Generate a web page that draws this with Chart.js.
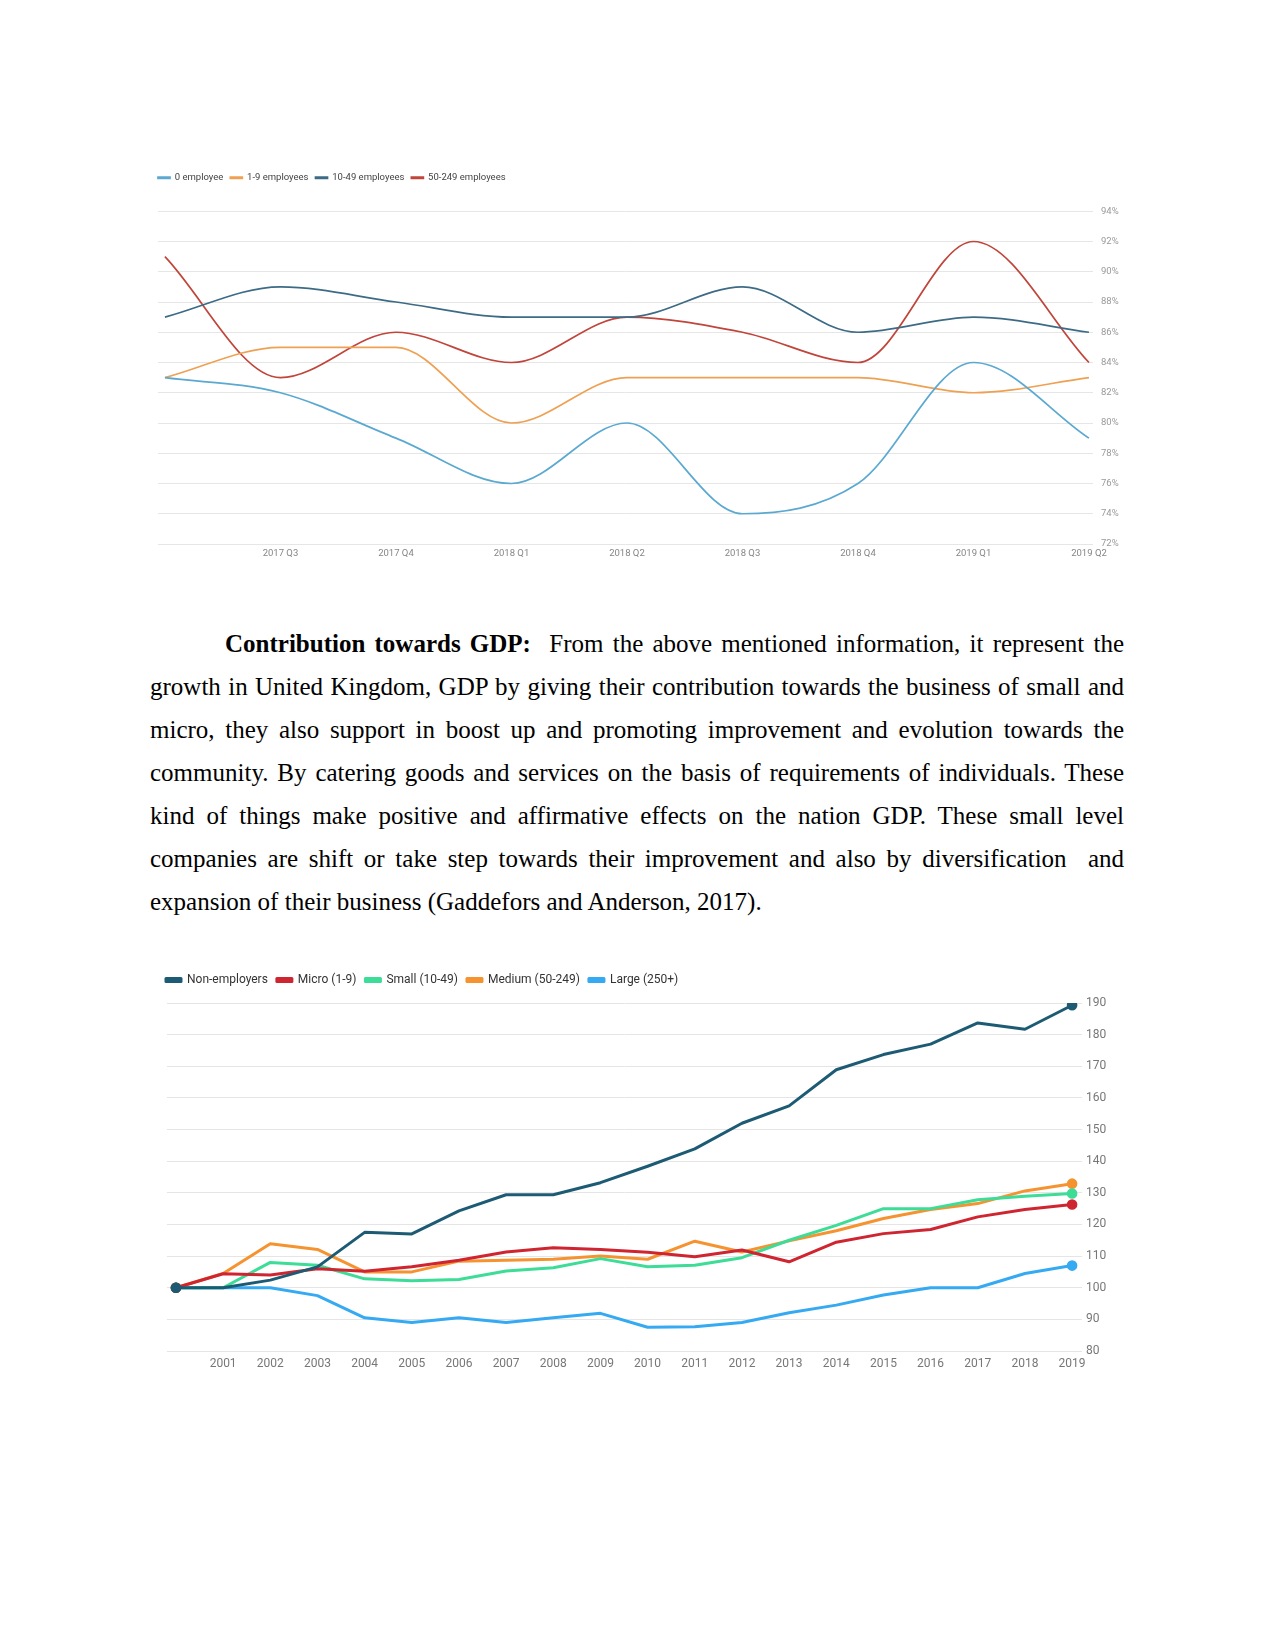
<!DOCTYPE html>
<html>
<head>
<meta charset="utf-8">
<script src="https://cdn.jsdelivr.net/npm/chart.js"></script>
<style>
  html, body { margin: 0; padding: 0; background: #fff; }
  body { width: 1275px; height: 1651px; position: relative; overflow: hidden; }
  .box { position: absolute; }
  #top-box { left: 150px; top: 165.5px; width: 975px; height: 398px; }
  #bottom-box { left: 160px; top: 965px; width: 952px; height: 412px; }
  #text {
    position: absolute; left: 150px; top: 621.5px; width: 974px;
    font-family: "Liberation Serif", "Times New Roman", serif;
    font-size: 25px; color: #000;
  }
  #text .l { height: 43.1px; line-height: 43.1px; white-space: nowrap; text-align: justify; text-align-last: justify; }
  #text .l.first { padding-left: 75px; }
  #text .l.last { text-align: left; text-align-last: left; }
</style>
</head>
<body>

<div class="box" id="top-box"><canvas id="chart-top"></canvas></div>

<div id="text">
  <div class="l first"><b>Contribution towards GDP:</b>&nbsp; From the above mentioned information, it represent the</div>
  <div class="l">growth in United Kingdom, GDP by giving their contribution towards the business of small and</div>
  <div class="l">micro, they also support in boost up and promoting improvement and evolution towards the</div>
  <div class="l">community. By catering goods and services on the basis of requirements of individuals. These</div>
  <div class="l">kind of things make positive and affirmative effects on the nation GDP. These small level</div>
  <div class="l">companies are shift or take step towards their improvement and also by diversification&nbsp; and</div>
  <div class="l last">expansion of their business (Gaddefors and Anderson, 2017).</div>
</div>

<div class="box" id="bottom-box"><canvas id="chart-bottom"></canvas></div>

<script>
// graphique 1 : part des entreprises par trimestre
const quarters = ['2017 Q2', '2017 Q3', '2017 Q4', '2018 Q1', '2018 Q2', '2018 Q3', '2018 Q4', '2019 Q1', '2019 Q2'];
const emp0 = [83, 82, 79, 76, 80, 74, 76, 84, 79];
const emp1to9 = [83, 85, 85, 80, 83, 83, 83, 82, 83];
const emp10to49 = [87, 89, 88, 87, 87, 89, 86, 87, 86];
const emp50to249 = [91, 83, 86, 84, 87, 86, 84, 92, 84];
const pctTicks = [72, 74, 76, 78, 80, 82, 84, 86, 88, 90, 92, 94];

// graphique 2 : indice par taille d'entreprise (2000 = 100)
const years = [2000, 2001, 2002, 2003, 2004, 2005, 2006, 2007, 2008, 2009,
               2010, 2011, 2012, 2013, 2014, 2015, 2016, 2017, 2018, 2019];
const nonEmployers = [100, 100, 102.4, 106.6, 117.5, 117, 124.3, 129.4, 129.4, 133.2,
                      138.4, 143.9, 152, 157.5, 168.9, 173.7, 177, 183.7, 181.7, 189.3];
const micro = [100, 104.4, 104, 106, 105.2, 106.6, 108.7, 111.3, 112.6, 112.1,
               111.2, 109.8, 111.9, 108.2, 114.4, 117.1, 118.4, 122.4, 124.7, 126.3];
const small = [100, 100, 108, 107.1, 102.8, 102.2, 102.6, 105.3, 106.3, 109.2,
               106.6, 107.1, 109.5, 115, 119.7, 125, 125, 127.8, 128.9, 129.8];
const medium = [100, 104.5, 113.9, 112.1, 105, 105, 108.4, 108.7, 109, 110,
                109, 114.7, 111.3, 114.8, 118, 121.9, 124.7, 126.6, 130.6, 132.9];
const large = [100, 100, 100, 97.5, 90.5, 89, 90.5, 89, 90.5, 91.9,
               87.5, 87.7, 89, 92.1, 94.5, 97.7, 100, 100, 104.5, 107];
const indexTicks = [80, 90, 100, 110, 120, 130, 140, 150, 160, 170, 180, 190];

Chart.defaults.font.family = 'Roboto, sans-serif';
Chart.defaults.animation = false;

// legende : espace en plus dessous, et calee sur le bord gauche du graphique
const legendTweak = {
  id: 'legendTweak',
  beforeInit(chart, args, opts) {
    const fit = chart.legend.fit;
    chart.legend.fit = function () {
      fit.call(this);
      this.height += opts.gap || 0;
    };
  },
  afterLayout(chart, args, opts) {
    chart.legend.left -= opts.dx || 0;
  }
};

const toXY = arr => arr.map((v, i) => ({ x: i, y: v }));

function lineSet(label, values, color, width) {
  return {
    label: label,
    data: toXY(values),
    borderColor: color,
    backgroundColor: color,
    borderWidth: width,
    pointRadius: 0,
    fill: false
  };
}

// --- premier graphique ---
const topSets = [
  lineSet('0 employee', emp0, '#5ba9d1', 1.7),
  lineSet('1-9 employees', emp1to9, '#eea152', 1.7),
  lineSet('10-49 employees', emp10to49, '#3d6b86', 1.7),
  lineSet('50-249 employees', emp50to249, '#c0453a', 1.7)
];
topSets.forEach(d => d.cubicInterpolationMode = 'monotone');

new Chart(document.getElementById('chart-top'), {
  type: 'line',
  data: { datasets: topSets },
  plugins: [legendTweak],
  options: {
    responsive: true,
    maintainAspectRatio: false,
    layout: { padding: { left: 8, right: 0, top: 0, bottom: 0 } },
    plugins: {
      legendTweak: { gap: 18.75, dx: 7 },
      tooltip: { enabled: false },
      legend: {
        position: 'top',
        align: 'start',
        labels: {
          boxWidth: 12,
          boxHeight: 1.5,
          padding: 7,
          color: '#444',
          font: { size: 9.5 }
        }
      }
    },
    scales: {
      x: {
        type: 'linear',
        min: -0.06,
        max: 8.035,
        grid: { display: false, drawTicks: false },
        border: { display: false },
        afterBuildTicks: s => { s.ticks = quarters.map((q, i) => ({ value: i })); },
        afterFit: s => { s.height = 20; },
        ticks: {
          autoSkip: false,
          maxRotation: 0,
          padding: 4,
          color: '#858585',
          font: { size: 9.5 },
          callback: v => (v === 0 ? '' : quarters[v])
        }
      },
      y: {
        position: 'right',
        min: 72,
        max: 94,
        grid: { color: '#e6e6e6', lineWidth: 1, drawTicks: false },
        border: { display: false },
        afterBuildTicks: s => { s.ticks = pctTicks.map(v => ({ value: v })); },
        afterFit: s => { s.width = 32; },
        ticks: {
          padding: 8,
          color: '#999',
          font: { size: 9.5 },
          callback: v => v + '%'
        }
      }
    }
  }
});

// --- second graphique ---
const endDots = ctx => (ctx.dataIndex === 0 || ctx.dataIndex === years.length - 1 ? 3.8 : 0);
const bottomSets = [
  lineSet('Non-employers', nonEmployers, '#1d5b74', 3),
  lineSet('Micro (1-9)', micro, '#cf2530', 3),
  lineSet('Small (10-49)', small, '#3ddc97', 3),
  lineSet('Medium (50-249)', medium, '#f59331', 3),
  lineSet('Large (250+)', large, '#35aaf2', 3)
];
bottomSets.forEach(d => { d.pointRadius = endDots; d.borderJoinStyle = 'round'; });

new Chart(document.getElementById('chart-bottom'), {
  type: 'line',
  data: { datasets: bottomSets },
  plugins: [legendTweak],
  options: {
    responsive: true,
    maintainAspectRatio: false,
    layout: { padding: { left: 6, right: 0, top: 0, bottom: 0 } },
    plugins: {
      legendTweak: { gap: 7, dx: 9 },
      tooltip: { enabled: false },
      legend: {
        position: 'top',
        align: 'start',
        labels: {
          boxWidth: 15,
          boxHeight: 3,
          padding: 9,
          color: '#333',
          font: { size: 12 }
        }
      }
    },
    scales: {
      x: {
        type: 'linear',
        min: -0.19,
        max: 19.21,
        grid: { display: false, drawTicks: false },
        border: { display: false },
        afterBuildTicks: s => { s.ticks = years.map((y, i) => ({ value: i })); },
        afterFit: s => { s.height = 26; },
        ticks: {
          autoSkip: false,
          maxRotation: 0,
          padding: 6,
          color: '#777',
          font: { size: 12 },
          callback: v => (v === 0 ? '' : String(years[v]))
        }
      },
      y: {
        position: 'right',
        min: 80,
        max: 190,
        grid: { color: '#e5e5e5', lineWidth: 1, drawTicks: false },
        border: { display: false },
        afterBuildTicks: s => { s.ticks = indexTicks.map(v => ({ value: v })); },
        afterFit: s => { s.width = 30; },
        ticks: {
          padding: 4,
          color: '#777',
          font: { size: 12 }
        }
      }
    }
  }
});
</script>
</body>
</html>
